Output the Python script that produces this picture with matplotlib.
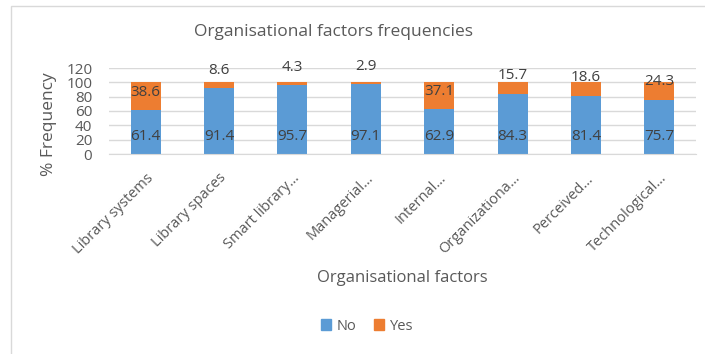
import matplotlib
matplotlib.use("Agg")
import matplotlib.pyplot as plt
from matplotlib.patches import Rectangle, Patch

plt.rcParams['font.family'] = ['Open Sans', 'DejaVu Sans']

categories = ["Library systems", "Library spaces", "Smart library\u2026", "Managerial\u2026",
              "Internal\u2026", "Organizationa\u2026", "Perceived\u2026", "Technological\u2026"]
no_values = [61.4, 91.4, 95.7, 97.1, 62.9, 84.3, 81.4, 75.7]
yes_values = [38.6, 8.6, 4.3, 2.9, 37.1, 15.7, 18.6, 24.3]
y_ticks = [0, 20, 40, 60, 80, 100, 120]

BLUE = "#5B9BD5"
ORANGE = "#ED7D31"
GRID = "#D9D9D9"
TEXT = "#595959"
LABEL = "#404040"

fig = plt.figure(figsize=(7.05, 3.54), dpi=100)
fig.patches.append(Rectangle((11 / 705, -0.05), 1.0, 1 - 6 / 354 + 0.05,
                             transform=fig.transFigure, fill=False,
                             edgecolor=GRID, linewidth=1.0))

ax = fig.add_axes([109 / 705, 1 - 154 / 354, 587 / 705, 86 / 354])
x = list(range(len(categories)))
width = 0.41
ax.bar(x, no_values, width, color=BLUE, label="No", zorder=2)
ax.bar(x, yes_values, width, bottom=no_values, color=ORANGE, label="Yes", zorder=2)

# data labels placed just inside the base of each segment
offset = 25
for xi, n, y in zip(x, no_values, yes_values):
    ax.text(xi, 0 + offset, f"{n:.1f}", ha="center", va="center", fontsize=11, color=LABEL, zorder=3)
    ax.text(xi, n + offset, f"{y:.1f}", ha="center", va="center", fontsize=11, color=LABEL, zorder=3)

ax.set_xlim(-0.5, len(categories) - 0.5)
ax.set_ylim(0, 120)
ax.set_yticks(y_ticks)
ax.set_yticklabels([str(t) for t in y_ticks], fontsize=11, color=TEXT)
ax.yaxis.grid(True, color=GRID, linewidth=1.0, zorder=0)
ax.set_axisbelow(True)
for s in ["top", "right", "left"]:
    ax.spines[s].set_visible(False)
ax.spines["bottom"].set_color(GRID)
ax.tick_params(axis="y", length=0, pad=12)
ax.tick_params(axis="x", length=0, pad=12)
ax.set_xticks(x)
ax.set_xticklabels(categories, rotation=45, ha="right", rotation_mode="anchor",
                   fontsize=10.5, color=TEXT)
ax.set_ylabel("% Frequency", fontsize=12.5, color=TEXT)
ax.yaxis.set_label_coords((57 - 109) / 587, (154 - 124) / 86)

fig.text(334 / 705, 1 - 32 / 354, "Organisational factors frequencies",
         ha="center", va="center", fontsize=12.5, color=TEXT)
fig.text(402 / 705, 1 - 278 / 354, "Organisational factors",
         ha="center", va="center", fontsize=12, color=TEXT)

handles = [Patch(color=BLUE, label="No"), Patch(color=ORANGE, label="Yes")]
fig.legend(handles=handles, loc="center", bbox_to_anchor=(367 / 705, 1 - 326 / 354),
           ncol=2, frameon=False, fontsize=10.5, handlelength=0.7, handleheight=0.7,
           handletextpad=0.4, columnspacing=1.2, labelcolor=TEXT)

fig.savefig("out.png", dpi=100)
